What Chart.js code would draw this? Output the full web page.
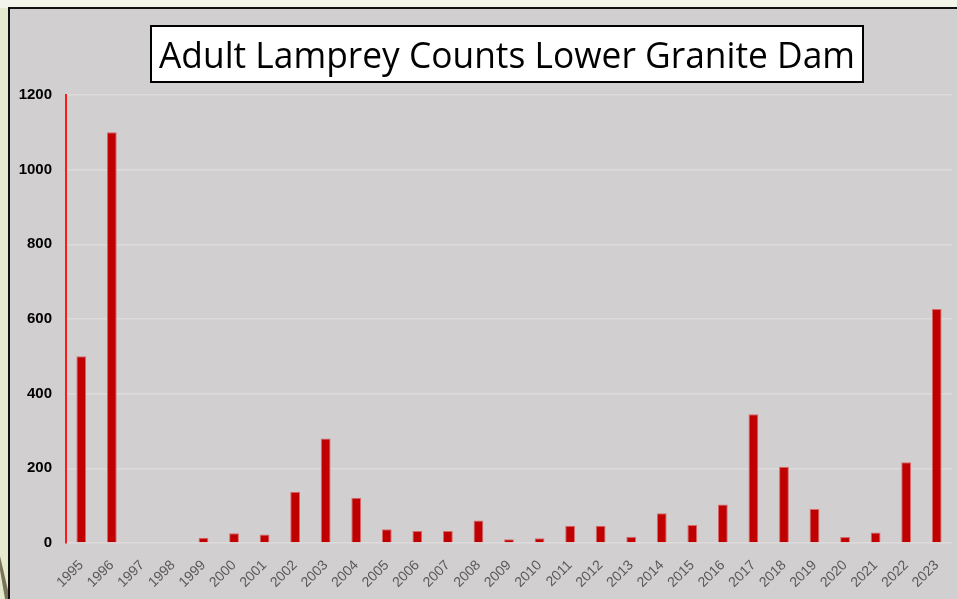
<!DOCTYPE html>
<html>
<head>
<meta charset="utf-8">
<script src="https://cdn.jsdelivr.net/npm/chart.js@4"></script>
<style>
    html, body { margin: 0; padding: 0; }
    body {
        width: 957px; height: 599px; overflow: hidden; position: relative;
        background: #e5eacf;
    }
    #topStrip { position: absolute; left: 0; top: 0; width: 957px; height: 8px; background: #f3f5ea; }
    #panel {
        position: absolute; left: 8px; top: 7px; width: 960px; height: 600px;
        background: #d1cfd0; border-left: 2px solid #111; border-top: 2px solid #111;
    }
    #deco { position: absolute; left: 0; top: 0; }
    #myChart { position: absolute; left: 0; top: 0; }
</style>
</head>
<body>
<div id="topStrip"></div>
<svg id="deco" width="20" height="599">
    <polygon points="0,556 0,570 5,599 10,599" fill="#7a7458"></polygon>
</svg>
<div id="panel"></div>
<canvas id="myChart" width="957" height="599"></canvas>

<script>
// Chart data
var years = ["1995", "1996", "1997", "1998", "1999", "2000", "2001", "2002", "2003", "2004",
    "2005", "2006", "2007", "2008", "2009", "2010", "2011", "2012", "2013", "2014",
    "2015", "2016", "2017", "2018", "2019", "2020", "2021", "2022", "2023"];
var lampreyCounts = [500, 1100, 0, 0, 14, 26, 23, 137, 280, 121,
    37, 32, 32, 60, 10, 13, 46, 46, 17, 80,
    48, 103, 345, 204, 91, 16, 28, 216, 627];
var yTicks = [0, 200, 400, 600, 800, 1000, 1200];
var chartTitle = "Adult Lamprey Counts Lower Granite Dam";

// Draws the boxed title above the plot
var titleBox = {
    id: "titleBox",
    afterDraw: function (chart) {
        var ctx = chart.ctx;
        ctx.save();
        ctx.fillStyle = "#ffffff";
        ctx.fillRect(151, 26, 712, 56);
        ctx.strokeStyle = "#000000";
        ctx.lineWidth = 2;
        ctx.strokeRect(151, 26, 712, 56);
        ctx.fillStyle = "#000000";
        ctx.font = "36px 'Open Sans', 'Liberation Sans', sans-serif";
        ctx.textAlign = "center";
        ctx.textBaseline = "alphabetic";
        ctx.fillText(chartTitle, 507, 68, 696);
        ctx.restore();
    }
};

var config = {
    type: "bar",
    data: {
        labels: years,
        datasets: [{
            data: lampreyCounts,
            backgroundColor: "#c00000",
            borderColor: "#d86a6a",
            borderWidth: 1,
            barPercentage: 0.32,
            categoryPercentage: 1
        }]
    },
    options: {
        responsive: false,
        animation: false,
        layout: { padding: { left: 0, right: 5, top: 95, bottom: 0 } },
        plugins: {
            legend: { display: false },
            tooltip: { enabled: false }
        },
        scales: {
            x: {
                grid: { display: false },
                border: { display: false },
                ticks: {
                    color: "#595959",
                    font: { family: "'Liberation Sans', sans-serif", size: 14 },
                    minRotation: 45,
                    maxRotation: 45,
                    padding: 6,
                    autoSkip: false
                },
                afterFit: function (scale) { scale.height = 56; }
            },
            y: {
                min: 0,
                max: 1200,
                afterBuildTicks: function (scale) {
                    scale.ticks = yTicks.map(function (v) { return { value: v }; });
                },
                grid: { color: "#dddbdc", lineWidth: 1.5, drawTicks: false },
                border: { color: "#ff1a1a", width: 2 },
                ticks: {
                    color: "#000000",
                    font: { family: "'Liberation Sans', sans-serif", size: 15, weight: "bold" },
                    padding: 14,
                    callback: function (value) { return String(value); }
                },
                afterFit: function (scale) { scale.width = 66; }
            }
        }
    },
    plugins: [titleBox]
};

var myChart = new Chart(document.getElementById("myChart"), config);
</script>
</body>
</html>
